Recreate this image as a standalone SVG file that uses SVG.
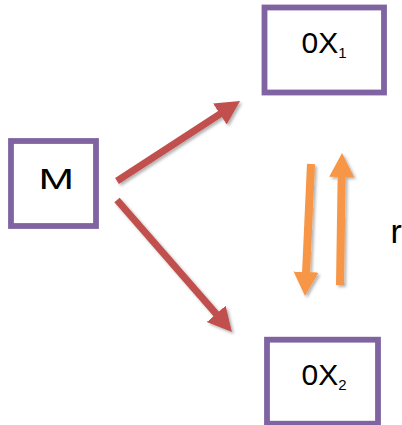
<svg xmlns="http://www.w3.org/2000/svg" width="402" height="425" viewBox="0 0 402 425">
<style>
.box{fill:#fff;stroke:#8064A2;stroke-width:5.8}
.lbl{font-family:"Liberation Sans",Arial,sans-serif;font-size:30px;fill:#000}
.sub{font-size:15px}
.red{stroke:#C0504D;stroke-width:7;fill:none}
.org{stroke:#F79646;stroke-width:8;fill:none}
</style>
<defs>
<filter id="sh" x="-20%" y="-20%" width="140%" height="140%">
<feDropShadow dx="2" dy="2" stdDeviation="1.5" flood-color="#000" flood-opacity="0.3"/>
</filter>
<marker id="hr" markerUnits="userSpaceOnUse" markerWidth="26" markerHeight="26" refX="2" refY="12.5" orient="auto">
<path d="M0,0 L24,12.5 L0,25 Z" fill="#C0504D"/>
</marker>
<marker id="ho" markerUnits="userSpaceOnUse" markerWidth="26" markerHeight="26" refX="2" refY="12.5" orient="auto">
<path d="M0,0 L24,12.5 L0,25 Z" fill="#F79646"/>
</marker>
</defs>
<rect width="402" height="425" fill="#fff"/>
<g id="connectors" filter="url(#sh)">
<line class="red" x1="117" y1="181" x2="221.6" y2="113" marker-end="url(#hr)"/>
<line class="red" x1="117" y1="200" x2="217.5" y2="315.4" marker-end="url(#hr)"/>
<line class="org" x1="311" y1="164" x2="306" y2="274" marker-end="url(#ho)"/>
<line class="org" x1="340" y1="285" x2="341.7" y2="175" marker-end="url(#ho)"/>
</g>
<g id="node-M">
<rect class="box" x="11" y="141" width="85" height="85"/>
<text class="lbl" text-anchor="middle" transform="translate(56.3,189) scale(1.42,1)">M</text>
</g>
<g id="node-OX1">
<rect class="box" x="264.5" y="7.5" width="119.5" height="85"/>
<text class="lbl" x="301.5" y="53">0X<tspan class="sub" dy="5">1</tspan></text>
</g>
<g id="node-OX2">
<rect class="box" x="267" y="339.7" width="111" height="84"/>
<text class="lbl" x="301.5" y="385">0X<tspan class="sub" dy="5">2</tspan></text>
</g>
<text class="lbl" x="390.5" y="243" style="font-size:34px">r</text>
</svg>
